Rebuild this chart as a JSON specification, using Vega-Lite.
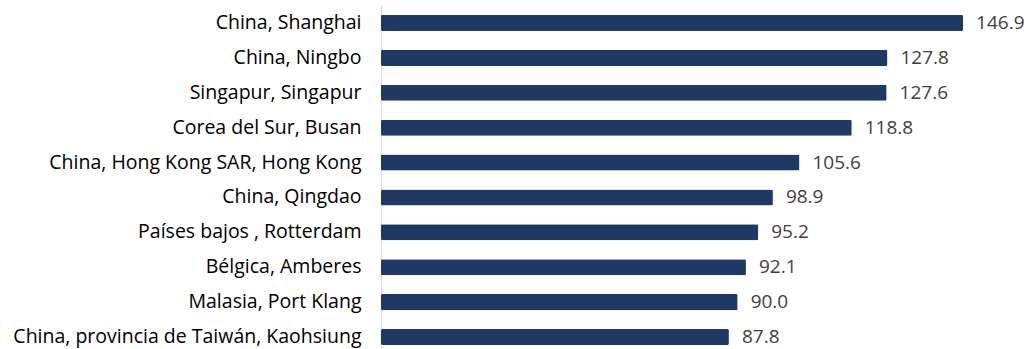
{
  "$schema": "https://vega.github.io/schema/vega-lite/v6.json",
  "autosize": "none",
  "padding": {"left": 381, "top": 5, "right": 13, "bottom": 0},
  "width": 634,
  "height": 350,
  "background": "white",
  "config": {"view": {"stroke": null}, "font": "Open Sans"},
  "data": {"values": [
    {"puerto": "China, Shanghai", "valor": 146.9},
    {"puerto": "China, Ningbo", "valor": 127.8},
    {"puerto": "Singapur, Singapur", "valor": 127.6},
    {"puerto": "Corea del Sur, Busan", "valor": 118.8},
    {"puerto": "China, Hong Kong SAR, Hong Kong", "valor": 105.6},
    {"puerto": "China, Qingdao", "valor": 98.9},
    {"puerto": "Países bajos , Rotterdam", "valor": 95.2},
    {"puerto": "Bélgica, Amberes", "valor": 92.1},
    {"puerto": "Malasia, Port Klang", "valor": 90.0},
    {"puerto": "China, provincia de Taiwán, Kaohsiung", "valor": 87.8}
  ]},
  "encoding": {
    "y": {"field": "puerto", "type": "nominal", "sort": null,
      "scale": {"paddingInner": 0.54, "paddingOuter": 0.285},
      "axis": {"title": null, "ticks": false, "domainColor": "#d9d9d9", "domainWidth": 1,
        "labelFont": "Open Sans", "labelFontSize": 19.5, "labelColor": "#000000", "labelPadding": 20, "labelLimit": 400}},
    "x": {"field": "valor", "type": "quantitative", "scale": {"domain": [0, 160], "nice": false}, "axis": null}
  },
  "layer": [
    {"mark": {"type": "bar", "color": "#203864", "cornerRadius": 1.5}},
    {"mark": {"type": "text", "align": "left", "baseline": "middle", "dx": 13, "fontSize": 19, "color": "#404040", "font": "Open Sans"},
     "encoding": {"text": {"field": "valor", "type": "quantitative", "format": ".1f"}}}
  ]
}
